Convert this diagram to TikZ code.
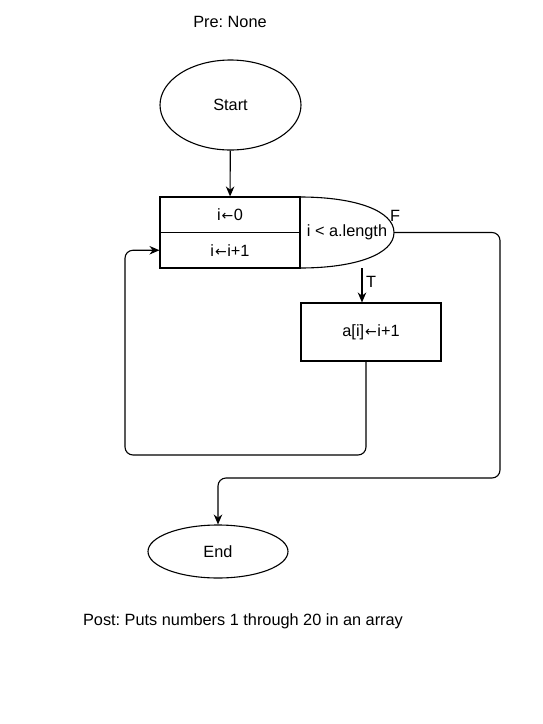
\documentclass[tikz,border=0pt]{standalone}
\usepackage{fontspec}
\setmainfont{Liberation Sans}
\newfontfamily\arrowfont{DejaVu Sans}
\newcommand{\assignarrow}{\hspace{1pt}{\arrowfont\fontsize{14}{19}\selectfont ←}\hspace{0.5pt}}
\frenchspacing
\usetikzlibrary{shapes.geometric,arrows.meta}
\begin{document}
\begin{tikzpicture}[x=1pt,y=-1pt,
  line width=1.1pt,
  every node/.style={font=\fontsize{16.3}{19}\selectfont},
  terminal/.style={draw,ellipse,inner sep=0pt},
  stepbox/.style={draw,rectangle,inner sep=0pt},
  flow/.style={draw,-{Stealth[length=10pt,width=8.5pt]},rounded corners=8pt},
  lbl/.style={inner sep=0pt}]
\useasboundingbox (0,0) rectangle (542,724);

% pre- and postconditions
\node[lbl] (pre) at (230,22) {Pre: None};
\node[lbl] (post) at (243,621) {Post: Puts numbers 1 through 20 in an array};

% terminals
\node[terminal,minimum width=141pt,minimum height=90pt] (start) at (230.5,105) {Start};
\node[terminal,minimum width=140pt,minimum height=53pt] (end) at (218,551.5) {End};

% loop header: initialisation, increment, condition
\node[stepbox,minimum width=140pt,minimum height=35.5pt] (init) at (230,214.75) {i\assignarrow0};
\node[stepbox,minimum width=140pt,minimum height=35.5pt] (incr) at (230,250.25) {i\assignarrow i+1};
\draw (300,197) .. controls (356,197) and (394,211) .. (394,232.5)
      .. controls (394,254) and (356,268) .. (300,268);
\node[lbl] (cond) at (347,232.5) {i < a.length};
\coordinate (condr) at (394,232.5);
\coordinate (condb) at (362,268);
\node[lbl] (flab) at (395,216) {F};
\node[lbl] (tlab) at (371,282) {T};

% loop body
\node[stepbox,minimum width=140pt,minimum height=58pt] (body) at (371,332) {a[i]\assignarrow i+1};
\coordinate (bodyout) at (366,361);
\coordinate (loopl) at (125,455);
\coordinate (exitc) at (500,478);

% connectors
\draw[flow] (start) -- (init);
\draw[flow] (condb) -- (condb |- body.north);
\draw[flow] (bodyout) |- (loopl) |- (incr.west);
\draw[flow] (condr) -| (exitc) -| (end.north);
\end{tikzpicture}
\end{document}
